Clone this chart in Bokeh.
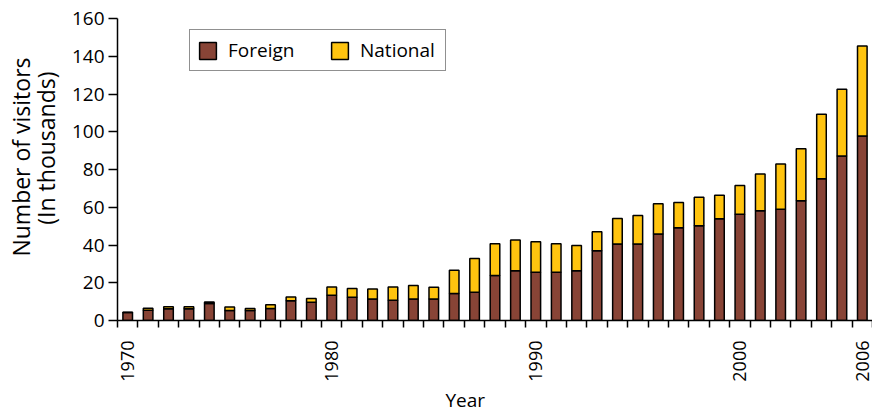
import math
from bokeh.plotting import figure
from bokeh.models import Range1d, FixedTicker, Legend, LegendItem, Title, ColumnDataSource
from bokeh.embed import file_html
from bokeh.resources import INLINE

years = list(range(1970, 2007))
foreign = [4.2, 5.4, 6.2, 6.2, 9.0, 5.3, 5.3, 6.3, 10.5, 9.7,
           13.4, 12.3, 11.4, 10.7, 11.4, 11.4, 14.3, 15.0, 23.8, 26.4,
           25.5, 25.5, 26.4, 37.0, 40.5, 40.5, 45.8, 49.1, 50.2, 53.9,
           56.3, 58.1, 59.0, 63.4, 75.1, 87.1, 97.7]
national = [0.2, 1.1, 1.1, 1.1, 0.8, 1.9, 1.0, 2.0, 2.0, 1.9,
            4.4, 4.6, 5.3, 7.1, 7.2, 6.2, 12.3, 17.9, 16.9, 16.2,
            16.2, 15.2, 13.4, 10.0, 13.5, 15.1, 16.1, 13.4, 15.1, 12.4,
            15.2, 19.5, 23.9, 27.6, 34.2, 35.4, 47.7]
x_tick_years = [1970, 1980, 1990, 2000, 2006]
y_ticks = [0, 20, 40, 60, 80, 100, 120, 140, 160]

BROWN = "#884436"
YELLOW = "#FFC40F"
FONT = "Open Sans"

total = [f + n for f, n in zip(foreign, national)]
source = ColumnDataSource(dict(year=years, foreign=foreign, total=total,
                               zero=[0] * len(years)))

p = figure(width=872, height=412, output_backend="svg", toolbar_location=None,
           x_range=Range1d(years[0] - 0.5, years[-1] + 0.5),
           y_range=Range1d(y_ticks[0], y_ticks[-1]),
           min_border_left=117, min_border_right=0, min_border_top=18,
           min_border_bottom=91)
p.outline_line_color = None
p.grid.visible = False
p.background_fill_color = "white"

r1 = p.vbar(x="year", width=0.47, bottom="zero", top="foreign", source=source,
            fill_color=BROWN, line_color="black", line_width=1.5)
r2 = p.vbar(x="year", width=0.47, bottom="foreign", top="total", source=source,
            fill_color=YELLOW, line_color="black", line_width=1.5)

# x axis
xa = p.xaxis[0]
xa.ticker = FixedTicker(ticks=x_tick_years,
                        minor_ticks=[y - 0.5 for y in years] + [years[-1] + 0.5])
xa.major_tick_out = 0
xa.major_tick_in = 0
xa.minor_tick_out = 7
xa.minor_tick_in = 0
xa.minor_tick_line_color = "black"
xa.minor_tick_line_width = 1.5
xa.major_label_orientation = math.pi / 2
xa.major_label_standoff = 13
xa.axis_line_width = 1.5
xa.axis_line_color = "black"
xa.major_label_text_font = FONT
xa.major_label_text_font_size = "18px"
xa.major_label_text_color = "black"

# y axis
ya = p.yaxis[0]
ya.ticker = FixedTicker(ticks=y_ticks)
ya.major_tick_out = 9
ya.major_tick_in = 0
ya.minor_tick_out = 0
ya.minor_tick_in = 0
ya.major_tick_line_width = 1.5
ya.major_tick_line_color = "black"
ya.major_label_standoff = 4
ya.axis_line_width = 1.5
ya.axis_line_color = "black"
ya.major_label_text_font = FONT
ya.major_label_text_font_size = "19px"
ya.major_label_text_color = "black"

legend = Legend(items=[LegendItem(label="Foreign", renderers=[r1]),
                       LegendItem(label="National", renderers=[r2])],
                orientation="horizontal", location=(72, 249),
                glyph_width=21, glyph_height=21, label_height=19,
                label_width=78, padding=7, spacing=23,
                label_standoff=10, margin=0,
                label_text_font=FONT, label_text_font_size="19px",
                label_text_color="black", label_text_line_height=1.0,
                border_line_color="#222222", border_line_width=1.2,
                background_fill_color="white", background_fill_alpha=1)
p.add_layout(legend)

p.add_layout(Title(text="(In thousands)", align="right", offset=53,
                   text_font=FONT, text_font_size="23px", text_font_style="normal",
                   text_color="black", standoff=14), "left")
p.add_layout(Title(text="Number of visitors", align="right", offset=39,
                   text_font=FONT, text_font_size="23px", text_font_style="normal",
                   text_color="black", standoff=-32), "left")
p.add_layout(Title(text="Year", align="left", offset=328,
                   text_font=FONT, text_font_size="19px", text_font_style="normal",
                   text_color="black", standoff=0), "below")

open("out.html", "w").write(file_html(p, INLINE))
